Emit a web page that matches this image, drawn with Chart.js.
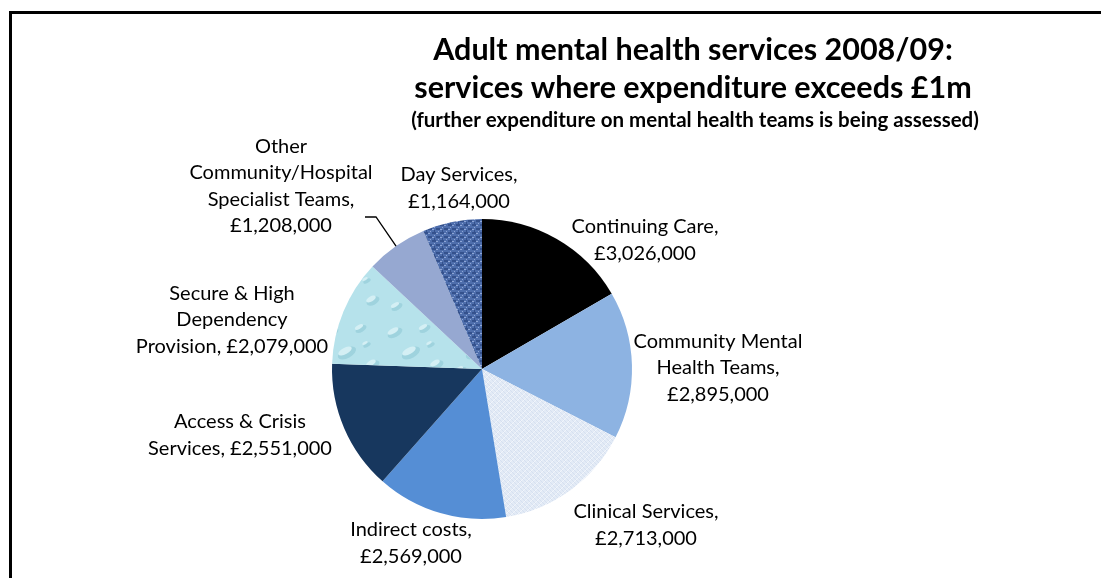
<!DOCTYPE html>
<html>
<head>
<meta charset="utf-8">
<title>Adult mental health services 2008/09</title>
<script src="https://cdn.jsdelivr.net/npm/chart.js@4.4.1/dist/chart.umd.min.js"></script>
<style>
    html, body { margin: 0; padding: 0; background: #fff; overflow: hidden; }
    #wrap { position: relative; width: 1101px; height: 578px; }
    #frame {
        position: absolute; left: 9px; top: 11px; width: 1200px; height: 700px;
        border-left: 3px solid #000; border-top: 3px solid #000;
    }
    canvas { position: absolute; left: 0; top: 0; }
</style>
</head>
<body>
<div id="wrap">
    <div id="frame"></div>
    <canvas id="pie" width="1101" height="578"></canvas>
</div>
<script>
// Spending by service, clockwise from 12 o'clock
const services = [
    'Continuing Care',
    'Community Mental Health Teams',
    'Clinical Services',
    'Indirect costs',
    'Access & Crisis Services',
    'Secure & High Dependency Provision',
    'Other Community/Hospital Specialist Teams',
    'Day Services'
];
const spend = [3026000, 2895000, 2713000, 2569000, 2551000, 2079000, 1208000, 1164000];

// How each label breaks over lines (value goes in as the {v} placeholder)
const labelLines = [
    ['Continuing Care,', '{v}'],
    ['Community Mental', 'Health Teams,', '{v}'],
    ['Clinical Services,', '{v}'],
    ['Indirect costs,', '{v}'],
    ['Access & Crisis', 'Services, {v}'],
    ['Secure & High', 'Dependency', 'Provision, {v}'],
    ['Other', 'Community/Hospital', 'Specialist Teams,', '{v}'],
    ['Day Services,', '{v}']
];

const titleLines = [
    'Adult mental health services 2008/09:',
    'services where expenditure exceeds £1m'
];
const subtitle = '(further expenditure on mental health teams is being assessed)';

// label block centres, px from the pie centre
const labelOffsets = [
    [163, -129], [236, -1], [164, 156], [-71, 174],
    [-242, 66], [-250, -49], [-201, -183], [-23, -181]
];

const FONT = '"Lato", "Open Sans", sans-serif';

function fmtMoney(v) {
    return '£' + v.toLocaleString('en-GB');
}

// --- fill textures for the three patterned slices ---
function makeTile(w, h, draw) {
    const c = document.createElement('canvas');
    c.width = w; c.height = h;
    draw(c.getContext('2d'), w, h);
    return c;
}

const tileCtx = document.createElement('canvas').getContext('2d');

const paperTile = makeTile(12, 12, (g, w, h) => {
    g.fillStyle = '#e3ebf6';
    g.fillRect(0, 0, w, h);
    g.strokeStyle = '#d6e0f0';
    g.lineWidth = 1;
    for (let i = -12; i < 24; i += 4) {
        g.beginPath(); g.moveTo(i, 0); g.lineTo(i + 12, 12); g.stroke();
    }
    g.strokeStyle = '#f1f5fb';
    for (let i = -12; i < 24; i += 6) {
        g.beginPath(); g.moveTo(i + 12, 0); g.lineTo(i, 12); g.stroke();
    }
});

const dropTile = makeTile(64, 64, (g, w, h) => {
    g.fillStyle = '#b6e2eb';
    g.fillRect(0, 0, w, h);
    const drops = [[10, 12, 8, 4], [40, 8, 6, 3], [26, 32, 10, 5], [52, 44, 7, 4], [12, 50, 6, 3], [46, 24, 4, 2]];
    drops.forEach(([x, y, rx, ry]) => {
        g.fillStyle = '#9fd3de';
        g.beginPath(); g.ellipse(x + 1, y + 1, rx, ry, -0.5, 0, Math.PI * 2); g.fill();
        g.fillStyle = '#d4eff4';
        g.beginPath(); g.ellipse(x - 1, y - 1, rx * 0.75, ry * 0.65, -0.5, 0, Math.PI * 2); g.fill();
    });
});

const denimTile = makeTile(8, 8, (g, w, h) => {
    g.fillStyle = '#4e6eac';
    g.fillRect(0, 0, w, h);
    g.fillStyle = '#34518c';
    g.fillRect(0, 0, 4, 2);
    g.fillRect(4, 4, 4, 2);
    g.fillRect(2, 6, 1, 2);
    g.fillStyle = '#8ea6d6';
    g.fillRect(4, 1, 2, 1);
    g.fillRect(0, 5, 2, 1);
    g.fillRect(6, 7, 1, 1);
    g.fillRect(2, 3, 1, 1);
});

const sliceColours = [
    '#000000',
    '#8db3e2',
    tileCtx.createPattern(paperTile, 'repeat'),
    '#558ed5',
    '#17375e',
    tileCtx.createPattern(dropTile, 'repeat'),
    '#96a8d1',
    tileCtx.createPattern(denimTile, 'repeat')
];

// --- titles, data labels and the one leader line ---
const annotate = {
    id: 'annotate',
    afterDraw(chart) {
        const ctx = chart.ctx;
        const arcs = chart.getDatasetMeta(0).data;
        const cx = arcs[0].x, cy = arcs[0].y;

        ctx.save();
        ctx.fillStyle = '#000';
        ctx.textAlign = 'center';
        ctx.textBaseline = 'middle';

        ctx.font = 'bold 30.5px ' + FONT;
        titleLines.forEach((t, i) => ctx.fillText(t, 693, 50 + i * 38));
        ctx.font = 'bold 20.5px ' + FONT;
        ctx.fillText(subtitle, 695, 120);

        ctx.font = '20px ' + FONT;
        const lh = 26.5;
        arcs.forEach((arc, i) => {
            const lines = labelLines[i].map(s => s.replace('{v}', fmtMoney(spend[i])));
            const bx = cx + labelOffsets[i][0];
            const by = cy + labelOffsets[i][1] - (lines.length - 1) * lh / 2;
            lines.forEach((s, k) => ctx.fillText(s, bx, by + k * lh));
        });

        // leader line for the small "Other" slice
        const other = arcs[6];
        const mid = (other.startAngle + other.endAngle) / 2;
        const ex = cx + Math.cos(mid) * other.outerRadius;
        const ey = cy + Math.sin(mid) * other.outerRadius;
        ctx.strokeStyle = '#000';
        ctx.lineWidth = 1.3;
        ctx.beginPath();
        ctx.moveTo(cx - 117, cy - 152);
        ctx.lineTo(cx - 106, cy - 152);
        ctx.lineTo(ex, ey);
        ctx.stroke();
        ctx.restore();
    }
};

new Chart(document.getElementById('pie'), {
    type: 'pie',
    data: {
        labels: services,
        datasets: [{
            data: spend,
            backgroundColor: sliceColours,
            borderWidth: 0
        }]
    },
    options: {
        responsive: false,
        animation: false,
        layout: { padding: { left: 332, right: 469, top: 219, bottom: 59 } },
        plugins: {
            legend: { display: false },
            tooltip: { enabled: false },
            title: { display: false }
        }
    },
    plugins: [annotate]
});
</script>
</body>
</html>
